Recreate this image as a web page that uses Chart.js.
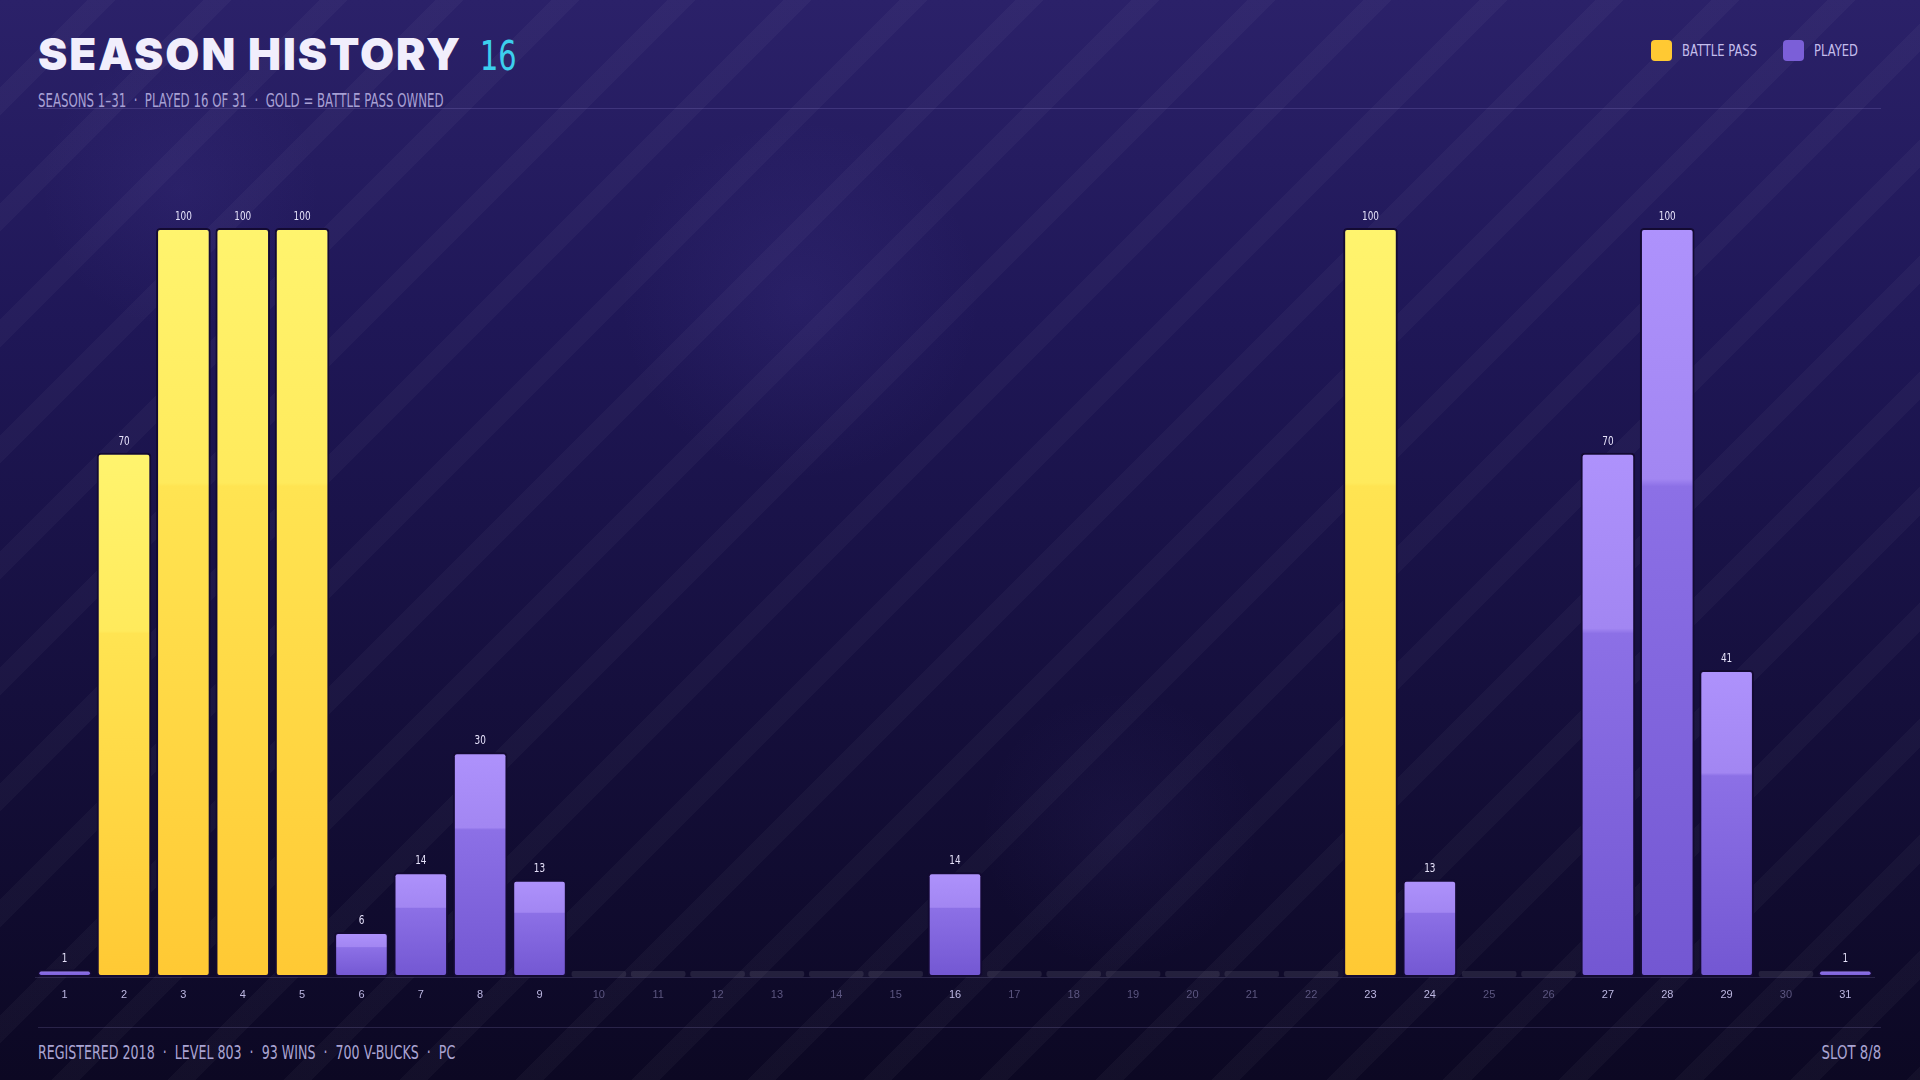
<!DOCTYPE html>
<html>
<head>
<meta charset="utf-8">
<script src="https://cdn.jsdelivr.net/npm/chart.js@4.4.1/dist/chart.umd.min.js"></script>
<style>
  html, body { margin: 0; padding: 0; }
  body {
    width: 1920px; height: 1080px; overflow: hidden; position: relative;
    background:
      radial-gradient(circle at 800px 300px, rgba(120,100,220,0.10), transparent 180px),
      radial-gradient(circle at 180px 190px, rgba(120,100,220,0.08), transparent 140px),
      radial-gradient(circle at 1120px 830px, rgba(120,100,220,0.06), transparent 140px),
      repeating-linear-gradient(135deg, rgba(255,255,255,0) 0px, rgba(255,255,255,0) 62px, rgba(255,255,255,0.03) 62px, rgba(255,255,255,0.03) 82px),
      linear-gradient(180deg, #2b2169 0%, #1f1757 30%, #150f3c 65%, #0c0823 100%);
    font-family: "DejaVu Sans", sans-serif;
  }
  .cond { display: inline-block; white-space: pre; transform-origin: left center; }
  .title { position: absolute; left: 38px; top: 27px; white-space: nowrap; display: flex; align-items: baseline; }
  .title .main { font-family: "Inter", "DejaVu Sans", sans-serif; font-weight: 900; font-size: 44px; color: #f1eefc; letter-spacing: 2px; }
  .title .num { font-size: 40px; color: #3ccfee; margin-left: 18px; transform: scaleX(0.72); }
  .sub { position: absolute; left: 38px; top: 89px; font-size: 19px; color: #a7a0d4; transform: scaleX(0.62); }
  .rule { position: absolute; left: 38px; width: 1843px; height: 1px; background: rgba(190,175,255,0.16); }
  .foot { position: absolute; top: 1041px; font-size: 19px; color: #aaa4d2; }
  .foot.l { left: 38px; transform: scaleX(0.665); }
  .foot.r { right: 39px; transform: scaleX(0.7); transform-origin: right center; }
  .legend { position: absolute; top: 40px; right: 62px; display: flex; align-items: center; font-size: 15px; color: #c4bdec; }
  .legend .sw { width: 21px; height: 21px; border-radius: 4px; margin-right: 10px; }
  .legend .item { display: flex; align-items: center; margin-left: 26px; }
  .legend .txt { transform: scaleX(0.77); transform-origin: left center; display: inline-block; white-space: pre; }
  .legend .txt.bp { margin-right: -22px; }
  .legend .txt.pl { margin-right: -13px; }
  #wrap { position: absolute; left: 35px; top: 200px; width: 1840px; height: 810px; }
</style>
</head>
<body>
<div class="title"><span class="main">SEASON HISTORY</span><span class="num cond">16</span></div>
<div class="sub cond">SEASONS 1–31  ·  PLAYED 16 OF 31  ·  GOLD = BATTLE PASS OWNED</div>
<div class="rule" style="top:108px"></div>
<div class="legend">
  <div class="item"><div class="sw" style="background:#ffc933"></div><span class="txt bp">BATTLE PASS</span></div>
  <div class="item"><div class="sw" style="background:#7b5fd8"></div><span class="txt pl">PLAYED</span></div>
</div>
<div id="wrap"><canvas id="chart"></canvas></div>
<div class="rule" style="top:1027px"></div>
<div class="foot l cond">REGISTERED 2018  ·  LEVEL 803  ·  93 WINS  ·  700 V-BUCKS  ·  PC</div>
<div class="foot r cond">SLOT 8/8</div>
<script>
const seasons = [...Array(31).keys()].map(i => String(i + 1));
// season level reached (null = not played)
const levels = [1, 70, 100, 100, 100, 6, 14, 30, 13, null, null, null, null, null, null, 14,
  null, null, null, null, null, null, 100, 13, null, null, 70, 100, 41, null, 1];
// battle pass owned
const battlePass = [false, true, true, true, true, false, false, false, false, false, false, false, false, false, false, false,
  false, false, false, false, false, false, true, false, false, false, false, false, false, false, false];
const placeholder = levels.map(v => v === null ? 0.8 : null);

function barFill(ctx) {
  const chart = ctx.chart;
  const v = ctx.raw;
  if (!chart.chartArea || v === null) return '#7b5fd8';
  const y = chart.scales.y;
  const top = y.getPixelForValue(v), base = y.getPixelForValue(0);
  if (base - top < 2) return '#8a6ee6';
  const g = chart.ctx.createLinearGradient(0, top, 0, base);
  if (battlePass[ctx.dataIndex]) {
    g.addColorStop(0, '#fff46e');
    g.addColorStop(0.34, '#ffea5c');
    g.addColorStop(0.345, '#ffe452');
    g.addColorStop(1, '#ffc934');
  } else {
    g.addColorStop(0, '#ae92fc');
    g.addColorStop(0.335, '#a286f2');
    g.addColorStop(0.345, '#8c70e6');
    g.addColorStop(1, '#7357d2');
  }
  return g;
}

const valueLabels = {
  id: 'valueLabels',
  afterDatasetsDraw(chart) {
    const meta = chart.getDatasetMeta(0);
    const c = chart.ctx;
    c.save();
    c.font = '12px "DejaVu Sans", sans-serif';
    c.fillStyle = '#e6e2fa';
    c.textAlign = 'center';
    c.textBaseline = 'bottom';
    meta.data.forEach((bar, i) => {
      if (levels[i] === null) return;
      c.save();
      c.translate(bar.x, bar.y - 5);
      c.scale(0.74, 1);
      c.fillText(String(levels[i]), 0, 0);
      c.restore();
    });
    c.restore();
  }
};

new Chart(document.getElementById('chart'), {
  type: 'bar',
  data: {
    labels: seasons,
    datasets: [
      {
        label: 'Level',
        data: levels,
        backgroundColor: barFill,
        borderColor: '#130a32',
        borderWidth: 2,
        borderRadius: 4,
        borderSkipped: false,
        barPercentage: 0.92,
        categoryPercentage: 1,
      },
      {
        label: 'Not played',
        data: placeholder,
        backgroundColor: 'rgba(255,255,255,0.09)',
        borderWidth: 0,
        borderRadius: 2,
        borderSkipped: false,
        barPercentage: 0.92,
        categoryPercentage: 1,
      },
    ],
  },
  options: {
    responsive: true,
    maintainAspectRatio: false,
    animation: false,
    layout: { padding: { top: 28, left: 0, right: 0, bottom: 0 } },
    plugins: { legend: { display: false }, tooltip: { enabled: false } },
    scales: {
      x: {
        stacked: true,
        grid: { display: false },
        border: { display: true, color: 'rgba(200,190,255,0.14)', width: 1 },
        ticks: {
          padding: 3,
          font: { size: 11, family: '"Liberation Sans", sans-serif' },
          color: (c) => levels[c.index] === null ? '#5c5680' : '#bdb7e2',
        },
        afterFit: (scale) => { scale.height = 33; },
      },
      y: {
        stacked: true,
        display: false,
        min: 0,
        max: 100,
      },
    },
  },
  plugins: [valueLabels],
});
</script>
</body>
</html>
